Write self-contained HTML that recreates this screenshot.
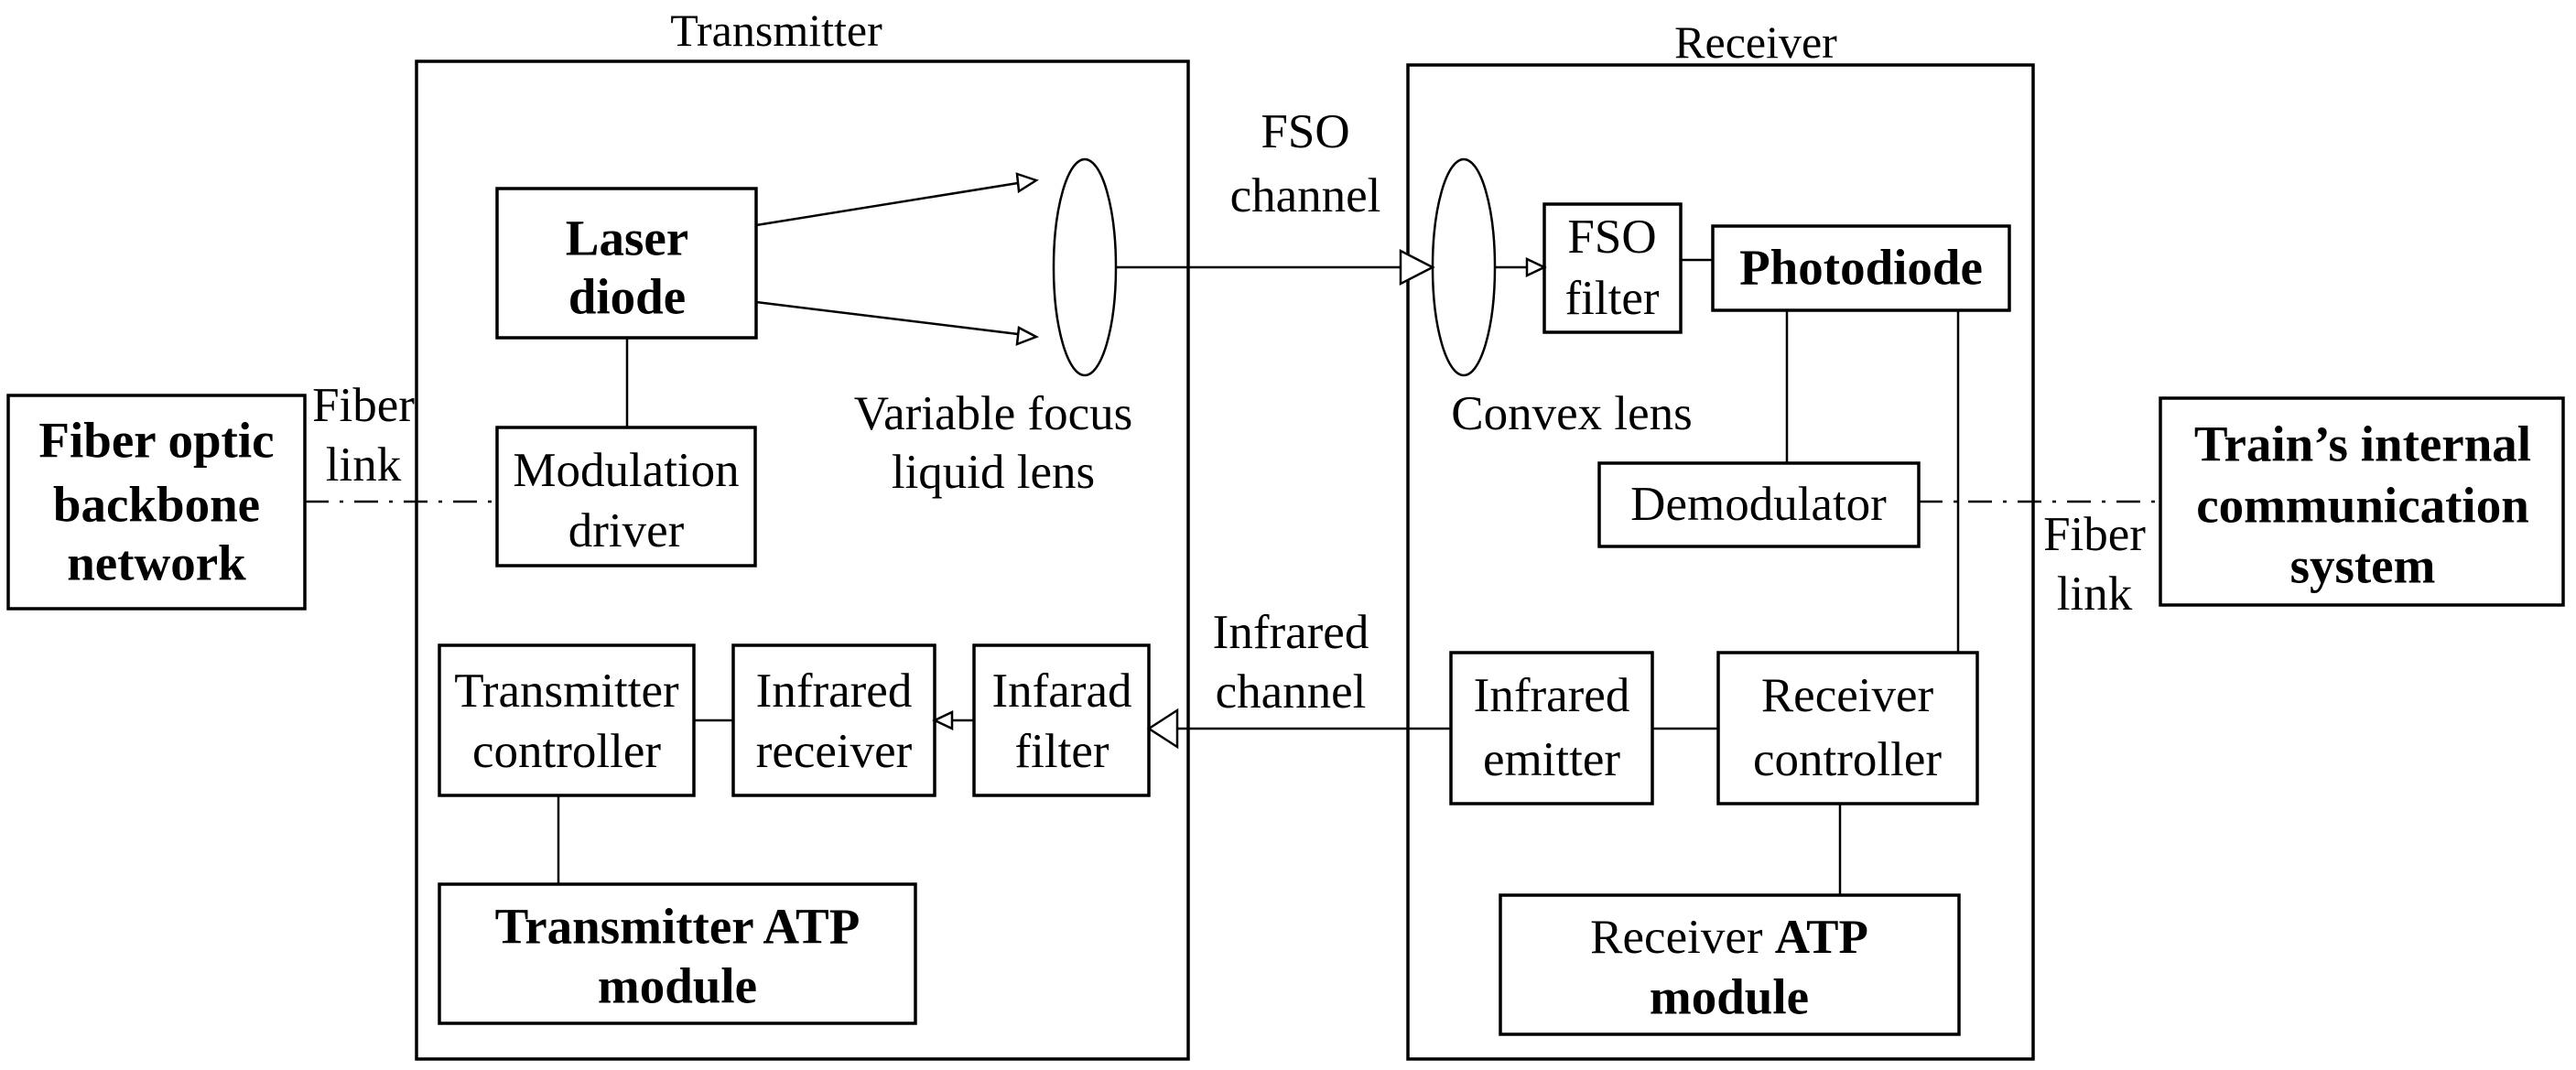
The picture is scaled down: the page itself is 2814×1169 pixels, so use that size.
<!DOCTYPE html>
<html><head><meta charset="utf-8"><style>html,body{margin:0;padding:0;background:#fff}svg{display:block}</style></head>
<body>
<svg width="2814" height="1169" viewBox="0 0 2814 1169" xmlns="http://www.w3.org/2000/svg" font-family="Liberation Serif, serif" text-anchor="middle" dominant-baseline="central">
<g fill="none" stroke="#000" stroke-width="3.5">
<rect x="455" y="67" width="843" height="1090"/>
<rect x="1538" y="71" width="683" height="1086"/>
<rect x="9" y="432" width="324" height="233"/>
<rect x="543" y="206" width="283" height="163"/>
<rect x="543" y="467" width="282" height="151"/>
<rect x="480" y="705" width="278" height="164"/>
<rect x="801" y="705" width="220" height="164"/>
<rect x="1064" y="705" width="191" height="164"/>
<rect x="480" y="966" width="520" height="152"/>
<rect x="1687" y="223" width="149" height="140"/>
<rect x="1871" y="247" width="324" height="92"/>
<rect x="1747" y="506" width="349" height="91"/>
<rect x="2360" y="435" width="440" height="226"/>
<rect x="1585" y="713" width="220" height="165"/>
<rect x="1877" y="713" width="283" height="165"/>
<rect x="1639" y="978" width="501" height="152"/>
</g>
<g fill="none" stroke="#000" stroke-width="2.5">
<ellipse cx="1185" cy="292" rx="34" ry="118"/>
<ellipse cx="1599" cy="292" rx="34" ry="118"/>
<line x1="685" y1="369" x2="685" y2="467"/>
<line x1="610" y1="869" x2="610" y2="966"/>
<line x1="758" y1="787" x2="801" y2="787"/>
<line x1="1064" y1="787" x2="1040" y2="787"/>
<line x1="826" y1="246" x2="1112" y2="200"/>
<line x1="826" y1="330" x2="1112" y2="365"/>
<line x1="1219" y1="292" x2="1530" y2="292"/>
<line x1="1633" y1="292" x2="1668" y2="292"/>
<line x1="1836" y1="284" x2="1871" y2="284"/>
<line x1="1952" y1="339" x2="1952" y2="506"/>
<line x1="2139" y1="339" x2="2139" y2="713"/>
<line x1="1805" y1="796" x2="1877" y2="796"/>
<line x1="1286" y1="796" x2="1585" y2="796"/>
<line x1="2010" y1="878" x2="2010" y2="978"/>
<line x1="333" y1="548" x2="543" y2="548" stroke-dasharray="26 12 4 12"/>
<line x1="2096" y1="548" x2="2360" y2="548" stroke-dasharray="26 12 4 12"/>
</g>
<g fill="#fff" stroke="#000" stroke-width="2.5">
<polygon points="1132,197 1111,190 1113,209"/>
<polygon points="1132,368 1113,358 1111,376"/>
<polygon points="1565,292 1530,274 1530,310"/>
<polygon points="1687,292 1668,283 1668,301"/>
<polygon points="1021,787 1040,778 1040,796"/>
<polygon points="1255,796 1286,776 1286,816"/>
</g>
<g font-size="50">
<text x="848" y="33">Transmitter</text>
<text x="1918" y="46">Receiver</text>
</g>
<g font-size="53">
<text x="684" y="514">Modulation</text><text x="684" y="580">driver</text>
<text x="397" y="443">Fiber</text><text x="397" y="508">link</text>
<text x="1085" y="452">Variable focus</text><text x="1085" y="516">liquid lens</text>
<text x="1426" y="144">FSO</text><text x="1426" y="214">channel</text>
<text x="1410" y="691">Infrared</text><text x="1410" y="756">channel</text>
<text x="619" y="755">Transmitter</text><text x="619" y="821">controller</text>
<text x="911" y="755">Infrared</text><text x="911" y="821">receiver</text>
<text x="1160" y="755">Infarad</text><text x="1160" y="821">filter</text>
<text x="1717" y="452">Convex lens</text>
<text x="1761" y="259">FSO</text><text x="1761" y="326">filter</text>
<text x="1921" y="551">Demodulator</text>
<text x="2288" y="584">Fiber</text><text x="2288" y="649">link</text>
<text x="1695" y="760">Infrared</text><text x="1695" y="830">emitter</text>
<text x="2018" y="760">Receiver</text><text x="2018" y="830">controller</text>
<text x="1889" y="1024">Receiver <tspan font-weight="bold">ATP</tspan></text>
</g>
<g font-size="55" font-weight="bold">
<text x="685" y="260">Laser</text><text x="685" y="324">diode</text>
<text x="171" y="481">Fiber optic</text><text x="171" y="551">backbone</text><text x="171" y="615">network</text>
<text x="740" y="1012">Transmitter ATP</text><text x="740" y="1077">module</text>
<text x="2033" y="292">Photodiode</text>
<text x="2581" y="485">Train’s internal</text><text x="2581" y="552">communication</text><text x="2581" y="618">system</text>
<text x="1889" y="1089">module</text>
</g>
</svg>
</body></html>
